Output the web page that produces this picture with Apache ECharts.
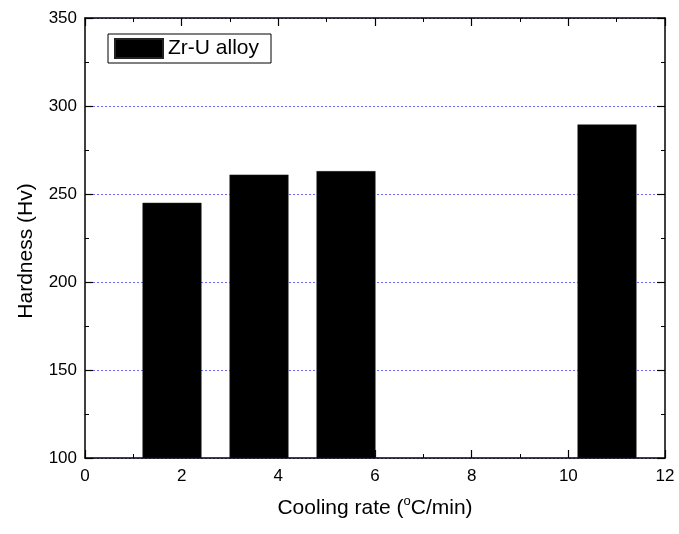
<!DOCTYPE html>
<html>
<head>
<meta charset="utf-8">
<script src="https://cdn.jsdelivr.net/npm/echarts@6/dist/echarts.min.js"></script>
<style>
  html, body { margin: 0; padding: 0; background: #fff; }
  #main { width: 679px; height: 534px; }
</style>
</head>
<body>
<div id="main"></div>
<script>
// cooling rate (oC/min) and hardness (Hv)
var coolingRates = [1.8, 3.6, 5.4, 10.8];
var hardness = [245, 261, 263, 289.5];
var seriesName = 'Zr-U alloy';

var chart = echarts.init(document.getElementById('main'));

var barData = [];
for (var i = 0; i < coolingRates.length; i++) {
    barData.push([coolingRates[i], hardness[i]]);
}

var fontFam = 'Liberation Sans, Arial, sans-serif';

// shared look for the frame axes
var frameLine = { show: true, onZero: false, lineStyle: { color: '#000', width: 1.5 } };
var tickIn = { show: true, inside: true, length: 8, lineStyle: { color: '#000', width: 1.2 } };
var minorIn = { show: true, splitNumber: 2, length: 4, lineStyle: { color: '#000', width: 1 } };

var option = {
    animation: false,
    backgroundColor: '#fff',
    textStyle: { fontFamily: fontFam },
    grid: { left: 85, right: 14, top: 18, bottom: 76 },
    legend: {
        left: 108,
        top: 34,
        orient: 'vertical',
        padding: [4, 12, 4, 6],
        borderColor: '#000',
        borderWidth: 1,
        itemWidth: 48,
        itemHeight: 19,
        itemGap: 0,
        icon: 'rect',
        textStyle: { fontSize: 21, lineHeight: 19, color: '#000', fontFamily: fontFam },
        data: [seriesName]
    },
    xAxis: [{
        type: 'value',
        min: 0,
        max: 12,
        interval: 2,
        name: '{t|Cooling rate (}{s|o}{t|C/min)}',
        nameLocation: 'middle',
        nameGap: 37,
        nameTextStyle: {
            rich: {
                t: { fontSize: 21, lineHeight: 26, color: '#000', fontFamily: fontFam },
                s: { fontSize: 13, lineHeight: 13, color: '#000', fontFamily: fontFam, verticalAlign: 'top' }
            }
        },
        axisLine: frameLine,
        axisTick: tickIn,
        minorTick: minorIn,
        axisLabel: { fontSize: 17, color: '#000', margin: 10 },
        splitLine: { show: false }
    }, {
        type: 'value',
        position: 'top',
        min: 0,
        max: 12,
        interval: 2,
        axisLine: frameLine,
        axisTick: tickIn,
        minorTick: minorIn,
        axisLabel: { show: false },
        splitLine: { show: false }
    }],
    yAxis: [{
        type: 'value',
        min: 100,
        max: 350,
        interval: 50,
        name: 'Hardness (Hv)',
        nameLocation: 'middle',
        nameGap: 48,
        // the title sits a little below the middle of the axis
        nameTextStyle: { fontSize: 21, color: '#000', padding: [0, 26, 0, 0] },
        axisLine: frameLine,
        axisTick: tickIn,
        minorTick: minorIn,
        axisLabel: { fontSize: 17, color: '#000', margin: 8 },
        splitLine: {
            show: true,
            lineStyle: { color: '#6a6aff', type: [2, 2], width: 1 }
        }
    }, {
        type: 'value',
        position: 'right',
        min: 100,
        max: 350,
        interval: 50,
        axisLine: frameLine,
        axisTick: tickIn,
        minorTick: minorIn,
        axisLabel: { show: false },
        splitLine: { show: false }
    }],
    series: [{
        name: seriesName,
        type: 'bar',
        xAxisIndex: 0,
        yAxisIndex: 0,
        barWidth: 59,
        itemStyle: { color: '#000', borderColor: '#222', borderWidth: 0.5 },
        data: barData
    }]
};

chart.setOption(option);
</script>
</body>
</html>
